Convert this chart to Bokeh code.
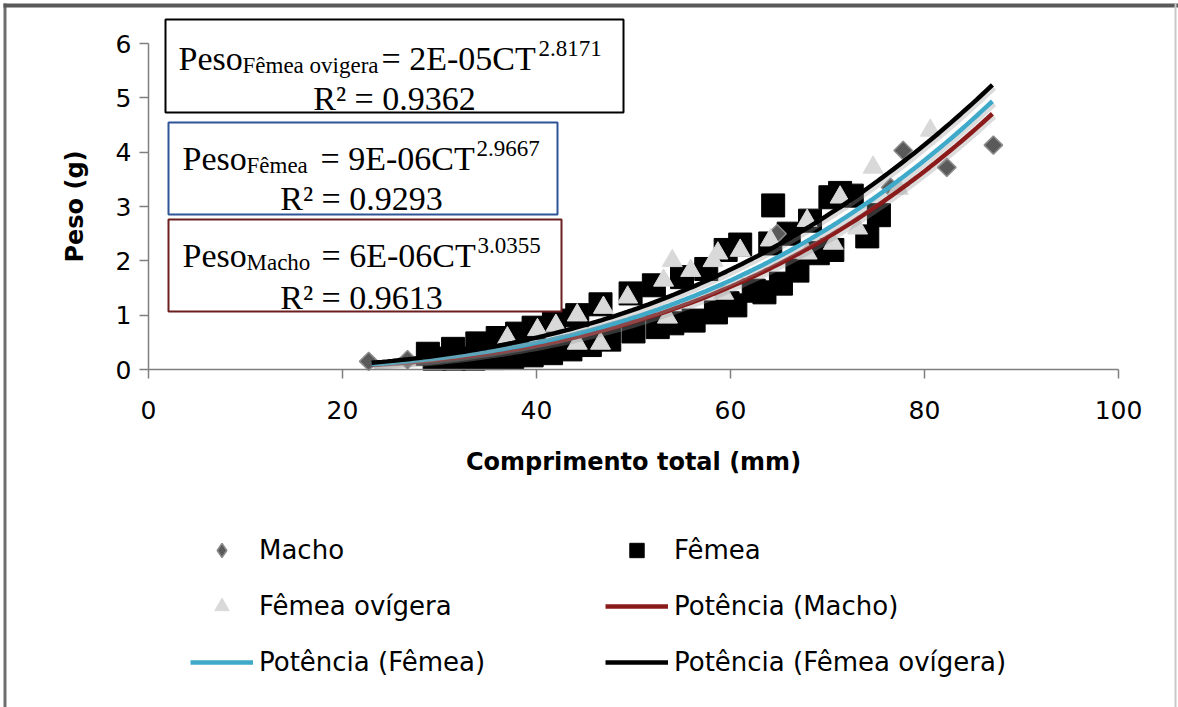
import numpy as np
from bokeh.plotting import figure
from bokeh.models import Range1d, FixedTicker, Label, BoxAnnotation, Legend, LegendItem
from bokeh.embed import file_html
from bokeh.resources import INLINE

# ---------------- data ----------------
macho_x = [22.7, 26.7, 64.8, 76.5, 77.8, 82.3, 87.1]
macho_y = [0.15, 0.18, 2.50, 3.35, 4.03, 3.72, 4.13]

femea_x = [29.5, 31.5, 33.5, 35.5, 37.5, 39.5, 41.5, 43.5, 45.5, 47.5,
           50.0, 52.5, 54.0, 56.2, 58.5, 59.7, 60.5, 62.4, 63.5, 65.2, 66.9, 69.0,
           70.5, 74.1, 75.3,
           28.8, 31.4, 33.9, 36.0, 38.0, 39.7, 41.8, 44.2, 46.6, 49.7, 52.1, 55.0,
           57.5, 59.5, 61.0, 64.1, 64.4, 66.0, 68.2, 70.3, 71.3, 72.5]
femea_y = [0.20, 0.20, 0.20, 0.21, 0.23, 0.26, 0.30, 0.37, 0.45, 0.55,
           0.70, 0.78, 0.85, 0.90, 1.05, 1.22, 1.18, 1.45, 1.42, 1.58, 1.82, 2.14,
           2.20, 2.45, 2.84,
           0.29, 0.38, 0.48, 0.58, 0.66, 0.77, 0.90, 1.00, 1.20, 1.40, 1.55, 1.70,
           1.85, 2.20, 2.30, 2.32, 3.02, 2.50, 2.74, 3.17, 3.25, 3.20]

ovig_x = [37.0, 40.1, 42.0, 44.2, 44.2, 46.6, 46.9, 49.4, 53.1, 53.5, 54.0, 55.9,
          58.2, 58.7, 59.3, 61.0, 64.1, 67.9, 67.9, 70.6, 71.3, 73.1, 74.7, 77.3, 80.6]
ovig_y = [0.58, 0.73, 0.81, 1.00, 0.48, 0.48, 1.14, 1.33, 1.64, 0.96, 2.00, 1.82,
          2.00, 2.14, 1.40, 2.19, 2.38, 2.74, 2.14, 2.32, 3.17, 2.60, 3.72, 3.33, 4.40]

# power trend lines  Peso = a * CT^b  (a as drawn, b as printed)
trend_a = [6.1e-6, 8.7e-6, 1.8e-5]
trend_b = [3.0355, 2.9667, 2.8171]
trend_range = [23.0, 87.0]

x_ticks = [0, 20, 40, 60, 80, 100]
y_ticks = [0, 1, 2, 3, 4, 5, 6]

# ---------------- layout ----------------
W, H = 1178, 707
X0_PX, X100_PX = 148.0, 1118.0     # where x=0 and x=100 fall
Y0_PX, Y6_PX = 369.0, 43.0         # where y=0 and y=6 fall
SX = (X100_PX - X0_PX) / 100.0
SY = (Y0_PX - Y6_PX) / 6.0
x_start = -X0_PX / SX
x_end = x_start + W / SX
y_end = Y0_PX / SY
y_start = y_end - H / SY


def dx(px):  # canvas px -> data x
    return x_start + px / SX


def dy(py):  # canvas px -> data y
    return y_end - py / SY


p = figure(width=W, height=H, output_backend="svg", toolbar_location=None,
           x_range=Range1d(x_start, x_end), y_range=Range1d(y_start, y_end),
           min_border_left=0, min_border_top=0, min_border_right=0, min_border_bottom=0)
p.outline_line_color = None
p.xgrid.visible = False
p.ygrid.visible = False
p.background_fill_color = "white"
p.border_fill_color = "white"

for ax, ticks, bnds in ((p.xaxis[0], x_ticks, (0, 100)), (p.yaxis[0], y_ticks, (0, 6))):
    ax.ticker = FixedTicker(ticks=ticks)
    ax.fixed_location = 0
    ax.bounds = bnds
    ax.minor_tick_line_color = None
    ax.major_tick_in = 0
    ax.major_tick_out = 9
    ax.axis_line_color = "#7f7f7f"
    ax.major_tick_line_color = "#7f7f7f"
    ax.axis_line_width = 1.5
    ax.major_tick_line_width = 1.5
    ax.major_label_text_font = "DejaVu Sans"
    ax.major_label_text_font_size = "25px"
    ax.major_label_text_color = "black"
    ax.axis_label_text_font = "DejaVu Sans"
    ax.axis_label_text_font_style = "bold"
    ax.axis_label_text_font_size = "24px"
    ax.axis_label_text_color = "black"

p.xaxis.axis_label = "Comprimento total (mm)"
p.yaxis.axis_label = "Peso (g)"
p.xaxis.major_label_standoff = 22
p.xaxis.axis_label_standoff = 26
p.yaxis.major_label_standoff = 8
p.yaxis.axis_label_standoff = 24

# ---------------- scatter ----------------
MACHO_FILL, MACHO_LINE = "#5a5a5a", "#8c8c8c"
r_femea = p.scatter(femea_x, femea_y, marker="square", size=23,
                    fill_color="black", line_color="black")
# diamond-shaped glyph used for the legend entry (sits under the first Macho point)
r_macho_leg = p.scatter(macho_x[:1], macho_y[:1], marker="diamond", size=14,
                        fill_color=MACHO_FILL, line_color=MACHO_LINE, line_width=1.5)
r_macho = p.scatter(macho_x, macho_y, marker="square", angle=np.pi / 4, size=13,
                    fill_color=MACHO_FILL, line_color=MACHO_LINE, line_width=1.5)
r_ovig = p.scatter(ovig_x, ovig_y, marker="triangle", size=20,
                   fill_color="#d9d9d9", line_color="#d9d9d9")

# ---------------- trend lines ----------------
xf = np.linspace(trend_range[0], trend_range[1], 120)
trend_colors = ["#8B1A1A", "#3FA9C9", "black"]
trend_renderers = []
for a, b, c in zip(trend_a, trend_b, trend_colors):
    yf = a * xf ** b
    p.line(xf + 0.25, yf - 0.06, line_color="#9a9a9a", line_width=4, line_alpha=0.35)
    trend_renderers.append(p.line(xf, yf, line_color=c, line_width=4.5))
r_tm, r_tf, r_to = trend_renderers

# ---------------- chart-area border ----------------
for (l, r, t, b, c) in [(3, 6, 3, 707, "#6e6e6e"), (3, 1178, 3, 7, "#595959"),
                        (1174, 1176, 3, 707, "#c8c8c8")]:
    p.add_layout(BoxAnnotation(left=dx(l), right=dx(r), top=dy(t), bottom=dy(b),
                               fill_color=c, fill_alpha=1, line_color=None))

# ---------------- equation boxes ----------------
boxes = [(165, 623, 19, 112, "black"), (168, 557, 122, 214, "#2F5597"),
         (168, 561, 219, 311, "#6B1F1F")]
for l, r, t, b, c in boxes:
    p.add_layout(BoxAnnotation(left=dx(l), right=dx(r), top=dy(t), bottom=dy(b),
                               fill_color="white", fill_alpha=1,
                               line_color=c, line_alpha=1, line_width=2))

SERIF = "Liberation Serif"


def txt(px, py, s, size, align="left"):
    p.add_layout(Label(x=dx(px), y=dy(py), text=s, text_font=SERIF,
                       text_font_size=size, text_baseline="alphabetic",
                       text_align=align, text_color="black"))


eq_lines = [
    (178, 58, "Fêmea ovigera", 242, "= 2E-05CT", 381, "2.8171", 538, "R² = 0.9362", 394, 98),
    (182, 158, "Fêmea", 246, "= 9E-06CT", 320, "2.9667", 476, "R² = 0.9293", 361, 198),
    (182, 255, "Macho", 246, "= 6E-06CT", 321, "3.0355", 477, "R² = 0.9613", 361, 297),
]
for (px, base, sub, sx, rest, rx, sup, supx, r2, r2x, r2b) in eq_lines:
    txt(px, base, "Peso", "34px")
    txt(sx, base + 7, sub, "23px")
    txt(rx, base, rest, "34px")
    txt(supx, base - 10, sup, "23px")
    txt(r2x, r2b, r2, "34px", align="center")

# ---------------- legend ----------------
leg_common = dict(orientation="vertical", glyph_width=63, glyph_height=36,
                  label_height=36, label_standoff=6, spacing=20, padding=0, margin=0,
                  border_line_color=None, background_fill_alpha=0,
                  label_text_font="DejaVu Sans", label_text_font_size="26px",
                  label_text_color="black")
leg1 = Legend(items=[LegendItem(label="Macho", renderers=[r_macho_leg]),
                     LegendItem(label="Fêmea ovígera", renderers=[r_ovig]),
                     LegendItem(label="Potência (Fêmea)", renderers=[r_tf])],
              location=(190, H - 680), **leg_common)
leg2 = Legend(items=[LegendItem(label="Fêmea", renderers=[r_femea]),
                     LegendItem(label="Potência (Macho)", renderers=[r_tm]),
                     LegendItem(label="Potência (Fêmea ovígera)", renderers=[r_to])],
              location=(605, H - 680), **leg_common)
p.add_layout(leg1)
p.add_layout(leg2)

open("out.html", "w").write(file_html(p, INLINE))
